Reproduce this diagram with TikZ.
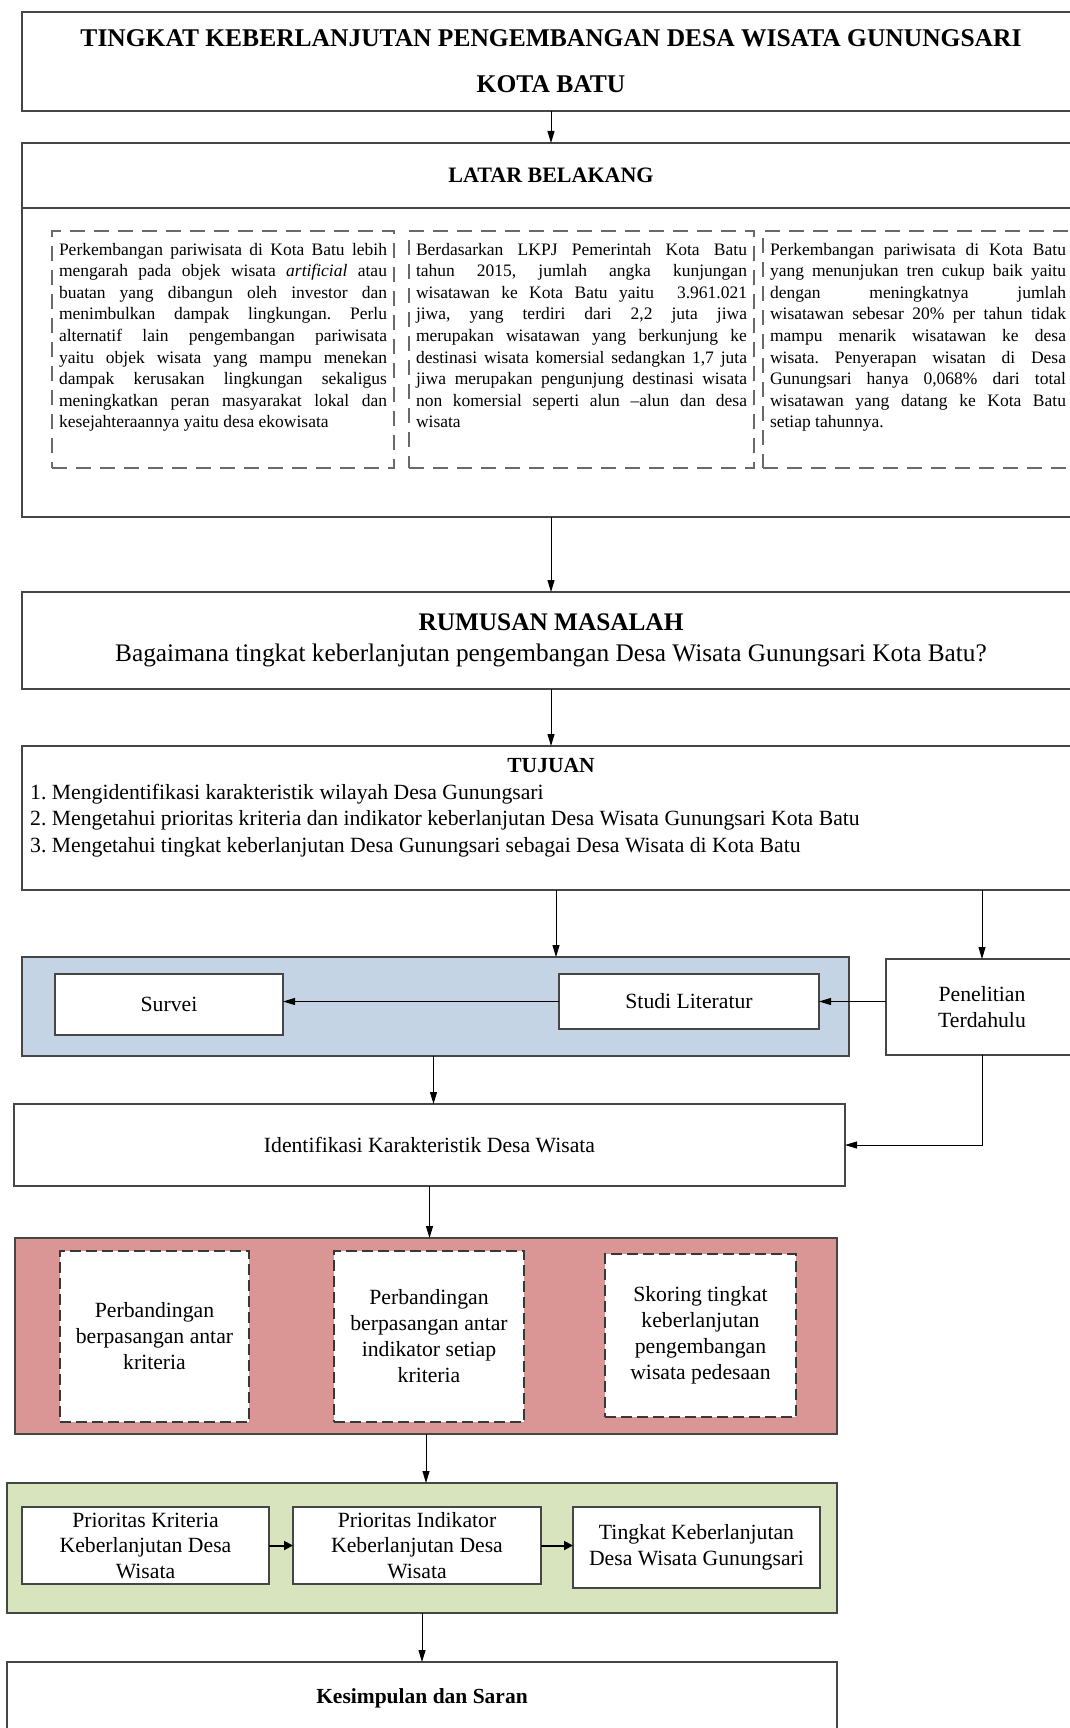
\documentclass[tikz,border=0pt]{standalone}
\usepackage{fontspec}
\setmainfont{Liberation Serif}
\usetikzlibrary{positioning,arrows.meta}
\definecolor{framegray}{RGB}{70,70,70}
\definecolor{dashgray}{RGB}{105,105,105}
\definecolor{bluefill}{RGB}{197,212,228}
\definecolor{redfill}{RGB}{217,150,148}
\definecolor{greenfill}{RGB}{215,228,189}
\frenchspacing

\begin{document}
\begin{tikzpicture}[x=1pt, y=-1pt,
  box/.style={draw=framegray, line width=1.8pt, rectangle, fill=white, anchor=north west, inner sep=0pt, outer sep=0pt, align=center, font=\fontsize{21.7}{26}\selectfont},
  groupbox/.style={box, fill=#1},
  dashbox/.style={draw=dashgray, line width=1.5pt, dash pattern=on 15pt off 9pt, rectangle, anchor=north west, inner xsep=7pt, inner ysep=12pt, outer sep=0pt, font=\fontsize{17.5}{21.6}\selectfont},
  stepdash/.style={box, draw=framegray!80!black, line width=1.5pt, dash pattern=on 11pt off 5pt},
  arr/.style={-{Triangle[length=12pt,width=7pt]}, line width=1pt},
  sarr/.style={-{Triangle[length=9pt,width=9pt]}, line width=2pt}]
\useasboundingbox (0,0) rectangle (1069,1728);
% Header
\node[box, minimum width=1058pt, minimum height=99pt, font=\bfseries\fontsize{25.5}{46}\selectfont] (title) at (22,12) {TINGKAT KEBERLANJUTAN PENGEMBANGAN DESA WISATA GUNUNGSARI\\KOTA BATU};

% Latar belakang
\node[box, minimum width=1058pt, minimum height=65pt, font=\bfseries\fontsize{22}{25}\selectfont] (latarhead) at (22,143) {LATAR BELAKANG};
\node[box, minimum width=1058pt, minimum height=309pt] (latar) at (latarhead.south west) {};
\node[dashbox] (latar1) at (52,231) {\parbox[t][213pt][t]{328pt}{Perkembangan pariwisata di Kota Batu lebih\linebreak mengarah pada objek wisata \textit{artificial} atau\linebreak buatan yang dibangun oleh investor dan\linebreak menimbulkan dampak lingkungan. Perlu\linebreak alternatif lain pengembangan pariwisata\linebreak yaitu objek wisata yang mampu menekan\linebreak dampak kerusakan lingkungan sekaligus\linebreak meningkatkan peran masyarakat lokal dan\linebreak kesejahteraannya yaitu desa ekowisata}};
\node[dashbox] (latar2) at (409,231) {\parbox[t][213pt][t]{331pt}{Berdasarkan LKPJ Pemerintah Kota Batu\linebreak tahun 2015, jumlah angka kunjungan\linebreak wisatawan ke Kota Batu yaitu \ 3.961.021\linebreak jiwa, yang terdiri dari 2,2 juta jiwa\linebreak merupakan wisatawan yang berkunjung ke\linebreak destinasi wisata komersial sedangkan 1,7 juta\linebreak jiwa merupakan pengunjung destinasi wisata\linebreak non komersial seperti alun --alun dan desa\linebreak wisata}};
\node[dashbox] (latar3) at (763,231) {\parbox[t][213pt][t]{296pt}{Perkembangan pariwisata di Kota Batu\linebreak yang menunjukan tren cukup baik yaitu\linebreak dengan meningkatnya jumlah\linebreak wisatawan sebesar 20\% per tahun tidak\linebreak mampu menarik wisatawan ke desa\linebreak wisata. Penyerapan wisatan di Desa\linebreak Gunungsari hanya 0,068\% dari total\linebreak wisatawan yang datang ke Kota Batu\linebreak setiap tahunnya.}};

% Rumusan masalah dan tujuan
\node[box, minimum width=1058pt, minimum height=97pt, font=\fontsize{25.3}{31}\selectfont] (rumusan) at (22,592) {\textbf{RUMUSAN MASALAH}\\Bagaimana tingkat keberlanjutan pengembangan Desa Wisata Gunungsari Kota Batu?};
\node[box, minimum width=1058pt, minimum height=144pt] (tujuan) at (22,746) {};
\node[font=\bfseries\fontsize{21.5}{26}\selectfont, inner sep=0pt] (tujuanhead) at (551,766) {TUJUAN};
\node[anchor=north west, align=left, inner sep=0pt, font=\fontsize{21.7}{26.5}\selectfont] (tujuanlist) at (30,784) {1. Mengidentifikasi karakteristik wilayah Desa Gunungsari\\2. Mengetahui prioritas kriteria dan indikator keberlanjutan Desa Wisata Gunungsari Kota Batu\\3. Mengetahui tingkat keberlanjutan Desa Gunungsari sebagai Desa Wisata di Kota Batu};

% Pengumpulan data
\node[groupbox=bluefill, minimum width=827pt, minimum height=99pt] (metode) at (22,957) {};
\node[box, minimum width=228pt, minimum height=61pt] (survei) at (55,974) {Survei};
\node[box, minimum width=260pt, minimum height=55pt] (studi) at (559,974) {Studi Literatur};
\node[box, minimum width=192pt, minimum height=96pt] (penelitian) at (886,959) {Penelitian\\Terdahulu};
\node[box, minimum width=831pt, minimum height=82pt] (identifikasi) at (14,1104) {Identifikasi Karakteristik Desa Wisata};

% Analisis
\node[groupbox=redfill, minimum width=822pt, minimum height=196pt] (analisis) at (15,1238) {};
\node[stepdash, minimum width=189pt, minimum height=171pt] (banding1) at (60,1251) {Perbandingan\\berpasangan antar\\kriteria};
\node[stepdash, minimum width=190pt, minimum height=171pt] (banding2) at (334,1251) {Perbandingan\\berpasangan antar\\indikator setiap\\kriteria};
\node[stepdash, minimum width=191pt, minimum height=163pt] (skoring) at (605,1254) {Skoring tingkat\\keberlanjutan\\pengembangan\\wisata pedesaan};

% Hasil
\node[groupbox=greenfill, minimum width=830pt, minimum height=130pt] (hasil) at (7,1483) {};
\node[box, minimum width=247pt, minimum height=77pt, font=\fontsize{21.7}{25.5}\selectfont] (prio1) at (22,1507) {Prioritas Kriteria\\Keberlanjutan Desa\\Wisata};
\node[box, minimum width=248pt, minimum height=77pt, font=\fontsize{21.7}{25.5}\selectfont] (prio2) at (293,1507) {Prioritas Indikator\\Keberlanjutan Desa\\Wisata};
\node[box, minimum width=247pt, minimum height=81pt] (tingkat) at (573,1507) {Tingkat Keberlanjutan\\Desa Wisata Gunungsari};
\node[box, minimum width=830pt, minimum height=72pt, font=\bfseries\fontsize{21.5}{26}\selectfont] (kesimpulan) at (7,1662) {Kesimpulan dan Saran};

% Arrows
\draw[arr] (title) -- (latarhead);
\draw[arr] (latar) -- (rumusan);
\draw[arr] (rumusan) -- (tujuan);
\draw[arr] ([xshift=5pt]tujuan.south) -- ([xshift=5pt]tujuan.south |- metode.north);
\draw[arr] (tujuan.south -| penelitian.north) -- (penelitian.north);
\draw[arr] (penelitian.west |- studi.east) -- (studi.east);
\draw[arr] (studi.west) -- (studi.west -| survei.east);
\draw[arr] ([xshift=-2pt]metode.south) -- ([xshift=-2pt]metode.south |- identifikasi.north);
\draw[arr] (penelitian.south) |- (identifikasi.east);
\draw[arr] (identifikasi.south) -- (identifikasi.south |- analisis.north);
\draw[arr] (analisis.south) -- (analisis.south |- hasil.north);
\draw[arr] (hasil.south) -- (hasil.south |- kesimpulan.north);
\draw[sarr] (prio1.east) -- (prio1.east -| prio2.west);
\draw[sarr] (prio2.east) -- (prio2.east -| tingkat.west);
\end{tikzpicture}
\end{document}
